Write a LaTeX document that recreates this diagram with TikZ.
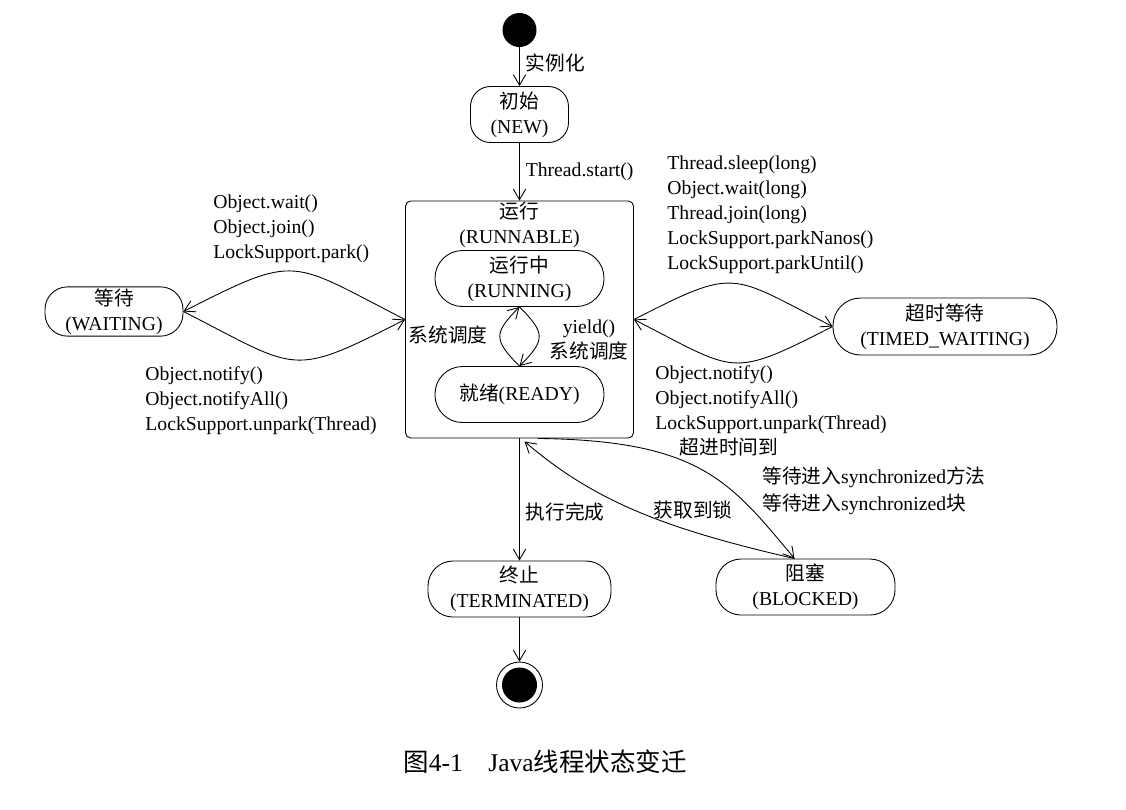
\documentclass[tikz,border=0pt]{standalone}
\usepackage{fontspec}
\setmainfont{Liberation Serif}
\newfontfamily\zhfont{Noto Sans CJK SC}
\newcommand{\zh}[1]{{\zhfont #1}}
\usetikzlibrary{arrows.meta}

\begin{document}
\begin{tikzpicture}[>={Straight Barb[length=6pt,width=7pt]}, line width=0.5pt,
    font=\fontsize{11.2}{14.2}\selectfont,
    state/.style={draw, rounded corners=0.5cm, minimum width=3.38cm,
                  minimum height=1.12cm, align=center, inner sep=1pt},
    arr/.style={->},
    lbl/.style={align=left, inner sep=0pt}]

    \useasboundingbox (0,0) rectangle (22.52,-16.18);

    % initial and final states
    \node[circle, fill=black, minimum size=0.68cm, inner sep=0pt] (start) at (10.39,-0.60) {};
    \node[circle, draw, minimum size=0.92cm, inner sep=0pt] (stop) at (10.39,-13.70) {};
    \node[circle, fill=black, minimum size=0.70cm, inner sep=0pt] (stopdot) at (stop) {};

    % thread states
    \node[state, minimum width=1.96cm, rounded corners=0.4cm] (new) at (10.39,-2.29) {\zh{初始}\\(NEW)};
    \node[draw, rounded corners=3pt, minimum width=4.56cm, minimum height=4.74cm] (runnable) at (10.39,-6.39) {};
    \node[align=center] (runtitle) at (10.39,-4.50) {\zh{运行}\\(RUNNABLE)};
    \node[state, rounded corners=0.55cm] (running) at (10.39,-5.57) {\zh{运行中}\\(RUNNING)};
    \node[state, rounded corners=0.55cm] (ready) at (10.39,-7.89) {\zh{就绪}(READY)};
    \node[state, minimum width=2.76cm, minimum height=0.96cm, rounded corners=0.45cm] (waiting) at (2.28,-6.23) {\zh{等待}\\(WAITING)};
    \node[state, minimum width=4.48cm, minimum height=1.14cm, rounded corners=0.55cm] (timed) at (18.90,-6.53) {\zh{超时等待}\\(TIMED\_WAITING)};
    \node[state, minimum width=3.66cm] (terminated) at (10.39,-11.78) {\zh{终止}\\(TERMINATED)};
    \node[state, minimum width=3.58cm] (blocked) at (16.11,-11.74) {\zh{阻塞}\\(BLOCKED)};

    % main line
    \draw[arr] (start) -- (new) node[pos=0.4, right] (linit) {\zh{实例化}};
    \draw[arr] (new) -- (runnable) node[midway, right] (lstart) {Thread.start()};
    \draw[arr] (runnable) -- (terminated) node[pos=0.6, right] (ldone) {\zh{执行完成}};
    \draw[arr] (terminated) -- (stop);

    % running <-> ready
    \draw[arr] (ready.north) to[out=135, in=-135, looseness=1.6] (running.south);
    \draw[arr] (running.south) to[out=-45, in=45, looseness=1.6] (ready.north);
    \node (lsched) at (8.96,-6.70) {\zh{系统调度}};
    \node[align=center] (lyield) at (11.78,-6.79) {yield()\\\zh{系统调度}};

    % waiting
    \draw[arr] (runnable.west) to[out=153, in=27, looseness=1.5] (waiting.east);
    \draw[arr] (waiting.east) to[out=-27, in=-153, looseness=1.5] (runnable.west);
    \node[lbl, anchor=west] (lwait) at (4.26,-4.58)
      {Object.wait()\\Object.join()\\LockSupport.park()};
    \node[lbl, anchor=west] (lnotify) at (2.90,-8.02)
      {Object.notify()\\Object.notifyAll()\\LockSupport.unpark(Thread)};

    % timed waiting
    \draw[arr] (runnable.east) to[out=27, in=153, looseness=1.5] (timed.west);
    \draw[arr] (timed.west) to[out=-153, in=-27, looseness=1.5] (runnable.east);
    \node[lbl, anchor=west] (lsleep) at (13.34,-4.30)
      {Thread.sleep(long)\\Object.wait(long)\\Thread.join(long)\\LockSupport.parkNanos()\\LockSupport.parkUntil()};
    \node[lbl, anchor=west] (lnotifyt) at (13.10,-8.00)
      {Object.notify()\\Object.notifyAll()\\LockSupport.unpark(Thread)};

    % blocked
    \coordinate (bk) at ([xshift=-0.22cm]blocked.north);
    \draw[arr] ([xshift=0.36cm]runnable.south) .. controls +(3.24,-0.04) and +(-1.3,1.56) .. (bk);
    \draw[arr] (bk) .. controls +(-2.6,0.6) and +(1.4,-1.2) .. ([xshift=0.1cm,yshift=-0.06cm]runnable.south);
    \node (ltimeout) at (14.58,-8.94) {\zh{超进时间到}};
    \node[lbl, anchor=west] (lsync) at (15.24,-9.81)
      {\zh{等待进入}synchronized\zh{方法}\\[1pt]\zh{等待进入}synchronized\zh{块}};
    \node (llock) at (13.86,-10.20) {\zh{获取到锁}};

    % caption
    \node[font=\fontsize{14.5}{17}\selectfont] (caption) at (10.90,-15.24)
      {\zh{图}4-1\quad Java\zh{线程状态变迁}};

\end{tikzpicture}
\end{document}
